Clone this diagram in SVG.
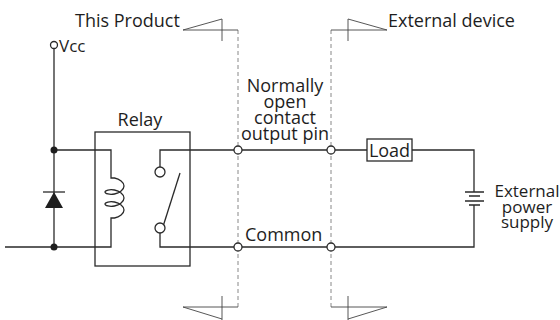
<svg xmlns="http://www.w3.org/2000/svg" width="560" height="320" viewBox="0 0 560 320">
<style>
.w{fill:none;stroke:#2a2a2a;stroke-width:1.3}
.d{fill:none;stroke:#888;stroke-width:1;stroke-dasharray:4,3}
.f{fill:none;stroke:#444;stroke-width:0.9}
.t{font-family:"Open Sans","Noto Sans",sans-serif;font-size:18px;fill:#1e1e1e}
.s{font-size:17px}
.c{text-anchor:middle}
.o{fill:#fff;stroke:#2a2a2a;stroke-width:1.3}
.dot{fill:#1e1e1e}
</style>
<rect width="560" height="320" fill="#fff"/>
<g id="connectors">
<path class="w" d="M54,48.5 V247"/>
<path class="w" d="M54,150 H111 V178 H114.5 C119.47,179 124,182.38 124,186 C124,189.62 119.47,193 114.5,194 C109.53,195 105,193.62 105,192 C105,190.38 109.53,189 114.5,190 C119.47,191 124,194.38 124,198 C124,201.62 119.47,205 114.5,206 C109.53,207 105,205.62 105,204 C105,202.38 109.53,201 114.5,202 C119.47,203 124,206.38 124,210 C124,213.62 119.47,217 114.5,218 H111 V247 H5"/>
<path class="w" d="M160,167 V150 H234"/>
<path class="w" d="M160,233 V247 H234"/>
<path class="w" d="M242,150 H327 M335,150 H367 M412,150 H474 V192 M474,205 V247 H335 M242,247 H327"/>
<path class="d" d="M238,30 V307 M331,30 V307"/>
</g>
<g id="vcc"><circle class="o" cx="54" cy="45" r="3.5"/><text class="t s" x="59" y="52">Vcc</text></g>
<g id="junctions"><circle class="dot" cx="54" cy="150" r="3.5"/><circle class="dot" cx="54" cy="247" r="3.5"/></g>
<g id="diode"><path d="M54,192 L45,208 H63 Z" fill="#1e1e1e"/><path class="w" d="M43,192 H65"/></g>
<g id="relay">
<rect class="w" x="95" y="132" width="95" height="134"/>
<text class="t c" x="140" y="126">Relay</text>
<circle class="o" cx="160" cy="172" r="5"/>
<circle class="o" cx="160" cy="228" r="5"/>
<path class="w" d="M163.5,225 L180,173"/>
</g>
<g id="terminals">
<circle class="o" cx="238" cy="150" r="4"/>
<circle class="o" cx="331" cy="150" r="4"/>
<circle class="o" cx="238" cy="247" r="4"/>
<circle class="o" cx="331" cy="247" r="4"/>
</g>
<g id="load"><rect class="w" x="367" y="139" width="45" height="22"/><text class="t c" x="389.5" y="157">Load</text></g>
<g id="battery"><path class="w" d="M465,192 H484 M469,196 H480 M465,201 H484 M469,205 H480"/></g>
<g id="flags">
<path class="f" d="M183,30 H238 M183,30 L222,19 V41"/>
<path class="f" d="M331,30 H387 L348,19 M348,19 V41"/>
<path class="f" d="M183,307 H238 M183,307 L222,319 M222,296 V320"/>
<path class="f" d="M331,307 H387 L348,319 M348,296 V320"/>
</g>
<g id="labels">
<text class="t" x="75" y="27">This Product</text>
<text class="t" x="388" y="27">External device</text>
<text class="t c" x="285" y="92">Normally</text>
<text class="t c" x="285" y="108">open</text>
<text class="t c" x="285" y="124">contact</text>
<text class="t c" x="285" y="140">output pin</text>
<text class="t" x="245" y="241">Common</text>
<text class="t c s" x="527" y="197">External</text>
<text class="t c s" x="527" y="212.5">power</text>
<text class="t c s" x="527" y="228">supply</text>
</g>
</svg>
